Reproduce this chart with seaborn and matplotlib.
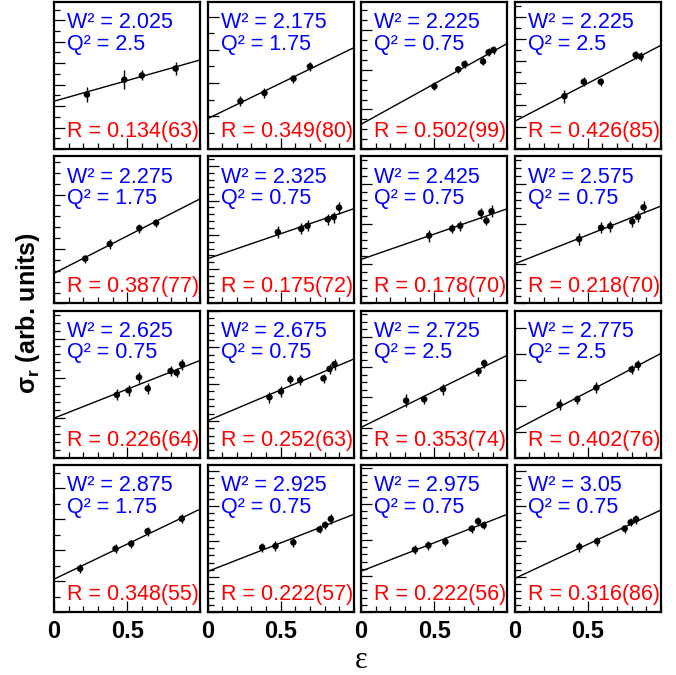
import matplotlib
matplotlib.use("Agg")
import matplotlib.pyplot as plt
from matplotlib.ticker import MultipleLocator, AutoMinorLocator, FixedLocator, FixedFormatter
import numpy as np
import pandas as pd
import seaborn as sns

# Kinematic bins of each panel
w2_values = ["2.025", "2.175", "2.225", "2.225",
             "2.275", "2.325", "2.425", "2.575",
             "2.625", "2.675", "2.725", "2.775",
             "2.875", "2.925", "2.975", "3.05"]
q2_values = ["2.5", "1.75", "0.75", "2.5",
             "1.75", "0.75", "0.75", "0.75",
             "0.75", "0.75", "2.5", "2.5",
             "1.75", "0.75", "0.75", "0.75"]
r_values = ["0.134(63)", "0.349(80)", "0.502(99)", "0.426(85)",
            "0.387(77)", "0.175(72)", "0.178(70)", "0.218(70)",
            "0.226(64)", "0.252(63)", "0.353(74)", "0.402(76)",
            "0.348(55)", "0.222(57)", "0.222(56)", "0.316(86)"]

# epsilon of the points in each panel
eps = [
    [0.225, 0.48, 0.60, 0.83],
    [0.225, 0.389, 0.587, 0.699],
    [0.501, 0.664, 0.707, 0.833, 0.871, 0.905],
    [0.341, 0.473, 0.589, 0.827, 0.861],
    [0.213, 0.381, 0.583, 0.697],
    [0.48, 0.64, 0.683, 0.821, 0.862, 0.898],
    [0.465, 0.622, 0.677, 0.818, 0.856, 0.891],
    [0.441, 0.591, 0.653, 0.804, 0.842, 0.881],
    [0.429, 0.509, 0.58, 0.64, 0.796, 0.837, 0.874],
    [0.423, 0.502, 0.566, 0.633, 0.792, 0.833, 0.867],
    [0.308, 0.431, 0.56, 0.802, 0.841],
    [0.308, 0.429, 0.559, 0.799, 0.842],
    [0.178, 0.42, 0.527, 0.639, 0.872],
    [0.373, 0.464, 0.586, 0.765, 0.803, 0.842],
    [0.368, 0.46, 0.576, 0.756, 0.799, 0.837],
    [0.443, 0.564, 0.752, 0.793, 0.83],
]

# reduced cross section (arb. units)
sigma = [
    [0.371, 0.472, 0.501, 0.548],
    [0.326, 0.382, 0.479, 0.562],
    [0.427, 0.542, 0.578, 0.596, 0.658, 0.674],
    [0.36, 0.458, 0.458, 0.64, 0.629],
    [0.304, 0.404, 0.511, 0.548],
    [0.484, 0.507, 0.527, 0.571, 0.587, 0.651],
    [0.461, 0.509, 0.527, 0.614, 0.562, 0.626],
    [0.438, 0.514, 0.525, 0.557, 0.589, 0.653],
    [0.427, 0.457, 0.546, 0.47, 0.589, 0.578, 0.635],
    [0.411, 0.45, 0.532, 0.527, 0.539, 0.603, 0.635],
    [0.388, 0.397, 0.466, 0.587, 0.642],
    [0.36, 0.397, 0.476, 0.60, 0.63],
    [0.295, 0.43, 0.464, 0.548, 0.634],
    [0.439, 0.448, 0.473, 0.561, 0.591, 0.632],
    [0.423, 0.452, 0.477, 0.566, 0.616, 0.589],
    [0.443, 0.48, 0.566, 0.609, 0.63],
]

sigma_err = [
    [0.05, 0.063, 0.034, 0.045],
    [0.034, 0.034, 0.027, 0.029],
    [0.027, 0.022, 0.027, 0.027, 0.027, 0.027],
    [0.045, 0.031, 0.027, 0.029, 0.029],
    [0.027, 0.032, 0.032, 0.027],
    [0.041, 0.037, 0.037, 0.037, 0.037, 0.041],
    [0.041, 0.032, 0.032, 0.037, 0.032, 0.041],
    [0.039, 0.037, 0.037, 0.037, 0.037, 0.041],
    [0.037, 0.037, 0.037, 0.037, 0.032, 0.032, 0.037],
    [0.037, 0.037, 0.032, 0.032, 0.032, 0.032, 0.037],
    [0.042, 0.032, 0.037, 0.032, 0.032],
    [0.037, 0.032, 0.037, 0.032, 0.032],
    [0.032, 0.032, 0.027, 0.032, 0.032],
    [0.032, 0.032, 0.032, 0.027, 0.027, 0.032],
    [0.032, 0.032, 0.032, 0.027, 0.032, 0.027],
    [0.032, 0.032, 0.027, 0.027, 0.032],
]

# linear fit sigma = a + b * eps
fit_a = [0.326, 0.207, 0.169, 0.189, 0.205, 0.304, 0.299, 0.269,
         0.269, 0.251, 0.206, 0.185, 0.223, 0.275, 0.277, 0.227]
fit_b = [0.281, 0.483, 0.550, 0.517, 0.507, 0.340, 0.345, 0.393,
         0.393, 0.420, 0.491, 0.524, 0.477, 0.389, 0.387, 0.466]

# y tick spacing per panel (arbitrary units, only cosmetic)
y_major = [0.146, 0.225, 0.27, 0.15, 0.37, 0.233, 0.27, 0.27,
           0.27, 0.25, 0.205, 0.176, 0.21, 0.24, 0.245, 0.24]
y_minor = [2, 2, 4, 2, 5, 5, 5, 5, 5, 5, 4, 1, 2, 5, 5, 5]

sns.set_theme(style="white")
plt.rcParams["font.family"] = ["Liberation Sans", "DejaVu Sans"]
plt.rcParams["text.color"] = "black"
plt.rcParams["xtick.color"] = "black"
plt.rcParams["ytick.color"] = "black"

fig = plt.figure(figsize=(6.76, 6.75), dpi=100)
gs = fig.add_gridspec(4, 4, left=54 / 676, right=661 / 676,
                      top=1 - 2 / 675, bottom=1 - 612 / 675,
                      wspace=0.048, hspace=0.048)

for i in range(16):
    row, col = divmod(i, 4)
    ax = fig.add_subplot(gs[row, col])
    ax.set_xlim(0, 1)
    ax.set_ylim(0, 1)

    df = pd.DataFrame({"eps": eps[i], "sigma": sigma[i], "err": sigma_err[i]})
    ax.errorbar(df["eps"], df["sigma"], yerr=df["err"], fmt="none",
                ecolor="black", elinewidth=1.0, capsize=0)
    sns.scatterplot(data=df, x="eps", y="sigma", ax=ax, color="black",
                    s=22, edgecolor="none", zorder=3)

    xs = np.array(ax.get_xlim())
    fit = pd.DataFrame({"eps": xs, "sigma": fit_a[i] + fit_b[i] * xs})
    sns.lineplot(data=fit, x="eps", y="sigma", ax=ax, color="black", lw=1.0)

    ax.text(0.09, 0.82, f"W² = {w2_values[i]}", transform=ax.transAxes,
            color="blue", fontsize=15.5, va="baseline")
    ax.text(0.09, 0.675, f"Q² = {q2_values[i]}", transform=ax.transAxes,
            color="blue", fontsize=15.5, va="baseline")
    ax.text(0.09, 0.08, f"R = {r_values[i]}", transform=ax.transAxes,
            color="red", fontsize=15.5, va="baseline")

    ax.set_xlabel("")
    ax.set_ylabel("")
    ax.xaxis.set_major_locator(FixedLocator([0.0, 0.5]))
    ax.xaxis.set_minor_locator(MultipleLocator(0.1))
    ax.yaxis.set_major_locator(MultipleLocator(y_major[i]))
    if y_minor[i] > 1:
        ax.yaxis.set_minor_locator(AutoMinorLocator(y_minor[i]))
    ax.set_yticklabels([])
    if row == 3:
        ax.xaxis.set_major_formatter(FixedFormatter(["0", "0.5"]))
    else:
        ax.set_xticklabels([])
    ax.tick_params(which="both", direction="in", bottom=True, left=True,
                   top=False, right=False, color="black", width=0.9)
    ax.tick_params(which="major", length=8)
    ax.tick_params(which="minor", length=4)
    ax.tick_params(axis="x", which="major", labelsize=17, pad=6,
                   labelcolor="black")
    for lab in ax.get_xticklabels():
        lab.set_fontweight("bold")
    for sp in ax.spines.values():
        sp.set_color("black")
        sp.set_linewidth(1.6)

fig.text(28 / 676, 1 - 313 / 675, "σ$_\\mathregular{r}$ (arb. units)",
         rotation=90, ha="center", va="center", fontsize=18,
         fontweight="bold", color="black")
fig.text(361 / 676, 1 - 668 / 675, "ε", ha="center", va="baseline",
         fontsize=22, family=["Liberation Serif", "DejaVu Serif"],
         color="black")

fig.savefig("out.png", dpi=100)
